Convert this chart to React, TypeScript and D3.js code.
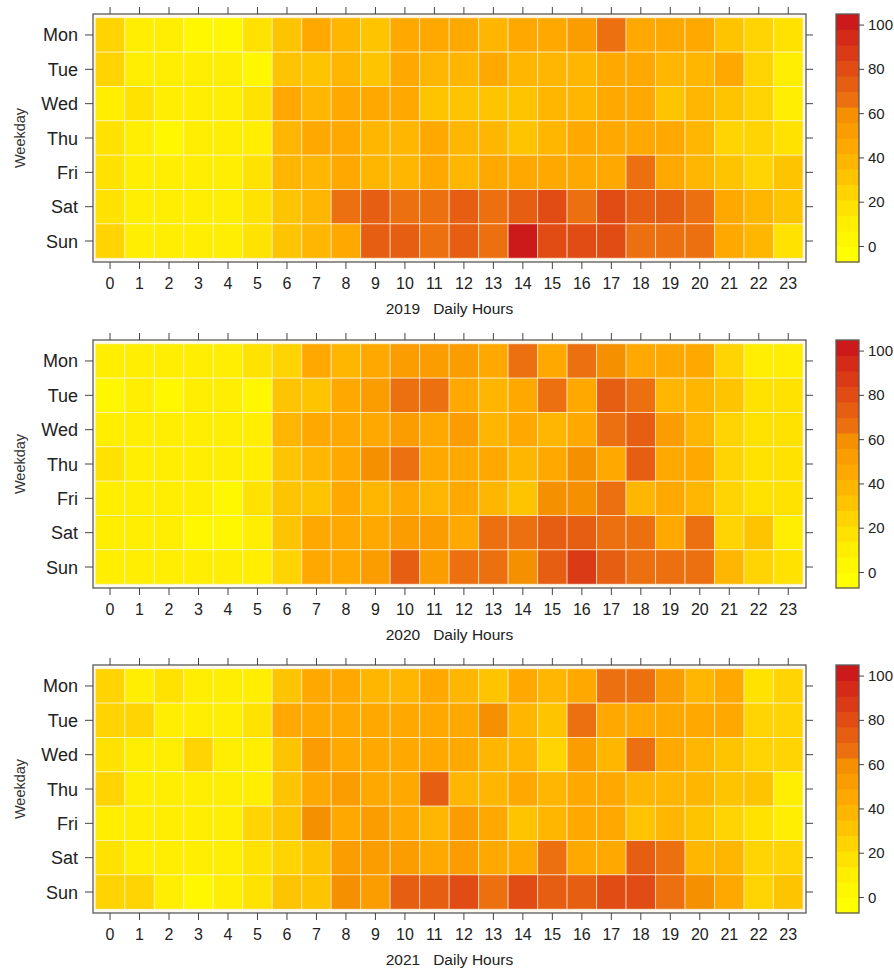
import React from "react";
import * as d3 from "d3";

const hours = d3.range(0, 24);
const weekdays = ["Mon", "Tue", "Wed", "Thu", "Fri", "Sat", "Sun"];
const years = ["2019", "2020", "2021"];

// rows: Mon..Sun, columns: hours 0..23
const values2019 = [
  [22, 8, 8, 6, 6, 15, 28, 45, 40, 33, 43, 45, 45, 40, 43, 42, 52, 65, 47, 43, 43, 33, 22, 17],
  [22, 10, 8, 7, 8, 5, 28, 33, 40, 33, 42, 40, 40, 42, 38, 40, 36, 43, 42, 40, 37, 45, 24, 12],
  [8, 18, 10, 9, 10, 15, 45, 40, 42, 46, 44, 32, 32, 28, 28, 36, 38, 45, 43, 28, 36, 28, 24, 13],
  [20, 9, 4, 8, 8, 12, 36, 47, 47, 40, 37, 45, 40, 37, 30, 40, 42, 42, 42, 43, 40, 27, 24, 20],
  [20, 12, 10, 10, 9, 14, 36, 40, 44, 40, 40, 43, 40, 42, 43, 42, 48, 43, 65, 43, 37, 28, 25, 28],
  [20, 10, 9, 9, 9, 15, 28, 40, 68, 72, 66, 68, 74, 66, 70, 80, 64, 82, 74, 70, 66, 48, 40, 32],
  [26, 12, 10, 9, 10, 15, 28, 40, 43, 70, 70, 68, 74, 68, 100, 80, 78, 80, 66, 64, 66, 47, 40, 16],
];

const values2020 = [
  [10, 8, 10, 8, 8, 16, 24, 47, 40, 43, 55, 55, 55, 43, 64, 48, 63, 62, 43, 43, 42, 22, 12, 12],
  [3, 8, 3, 7, 8, 6, 32, 33, 43, 55, 66, 68, 42, 40, 42, 64, 48, 74, 64, 40, 40, 28, 15, 15],
  [10, 9, 9, 9, 9, 13, 36, 42, 48, 44, 55, 43, 52, 40, 43, 40, 47, 68, 70, 52, 36, 22, 16, 14],
  [18, 10, 10, 9, 10, 13, 32, 36, 43, 58, 63, 47, 43, 43, 40, 48, 58, 47, 70, 43, 43, 22, 18, 16],
  [10, 9, 10, 9, 4, 14, 32, 33, 43, 38, 42, 40, 44, 36, 33, 62, 62, 63, 36, 43, 40, 22, 16, 16],
  [10, 9, 10, 4, 4, 8, 28, 43, 43, 47, 53, 55, 43, 64, 64, 74, 72, 66, 68, 48, 64, 24, 30, 12],
  [10, 10, 10, 10, 12, 12, 25, 43, 42, 53, 70, 55, 66, 65, 58, 72, 84, 72, 68, 64, 66, 40, 22, 16],
];

const values2021 = [
  [24, 8, 20, 10, 10, 13, 28, 43, 43, 40, 40, 43, 40, 30, 44, 40, 43, 64, 64, 52, 40, 44, 20, 22],
  [24, 22, 10, 9, 10, 16, 43, 43, 43, 43, 43, 43, 43, 58, 40, 28, 65, 43, 43, 43, 45, 43, 22, 22],
  [20, 10, 10, 22, 10, 8, 32, 55, 43, 45, 46, 43, 44, 40, 36, 24, 54, 38, 64, 43, 40, 28, 24, 22],
  [24, 10, 10, 9, 9, 7, 28, 47, 53, 47, 43, 74, 36, 40, 43, 40, 43, 43, 40, 40, 40, 28, 32, 13],
  [7, 10, 10, 10, 10, 22, 28, 58, 43, 52, 43, 40, 50, 43, 33, 40, 43, 43, 33, 36, 33, 24, 16, 13],
  [18, 10, 10, 10, 10, 16, 24, 32, 55, 53, 52, 44, 52, 47, 43, 65, 48, 48, 72, 68, 40, 36, 24, 22],
  [22, 24, 12, 4, 10, 16, 28, 32, 58, 55, 72, 70, 82, 65, 80, 72, 72, 80, 82, 64, 58, 44, 24, 32],
];

const yearValues = [values2019, values2020, values2021];
const keyTicks = [0, 20, 40, 60, 80, 100];

// levelplot style discrete palette, yellow -> orange -> red
const bandColors = [
  "#FFFF00", "#FFF700", "#FFEE00", "#FFE200", "#FFD400", "#FFC400", "#FFB600", "#FFA900",
  "#FB9C00", "#F59000", "#EC7010", "#E65E12", "#E04C14", "#DA3A16", "#D42A18", "#CC1A1A",
];
const zMin = -7;
const zMax = 105;

const font = "'Liberation Sans', Arial, Helvetica, sans-serif";

const frameLeft = 93;
const frameRight = 806;
const frameH = 248;
const frameTops = [14, 340, 665];
const keyLeft = 836;
const keyW = 23;

const color = d3.scaleQuantize<string>().domain([zMin, zMax]).range(bandColors);

function Panel({ year, values, top }: { year: string; values: number[][]; top: number }) {
  const x = d3.scaleBand<number>().domain(hours).range([95.3, 803]);
  const y = d3.scaleBand<string>().domain(weekdays).range([top + 3.8, top + frameH - 3.8]);
  const bottom = top + frameH;
  const keyY = d3.scaleLinear().domain([zMin, zMax]).range([bottom, top]);
  const step = (zMax - zMin) / bandColors.length;
  const bands = d3.range(bandColors.length).map((i) => zMin + i * step);

  return (
    <g>
      <rect x={frameLeft} y={top} width={frameRight - frameLeft} height={frameH} fill="#fffaf0" />
      {values.map((row, r) =>
        row.map((v, c) => (
          <rect
            key={`${r}-${c}`}
            x={x(hours[c])}
            y={y(weekdays[r])}
            width={x.bandwidth()}
            height={y.bandwidth()}
            fill={color(v)}
            stroke="rgba(250,244,225,0.6)"
            strokeWidth={1}
          />
        ))
      )}
      <rect x={frameLeft} y={top} width={frameRight - frameLeft} height={frameH} fill="none" stroke="#5a5a5a" strokeWidth={1.3} />
      {hours.map((h) => {
        const cx = x(h)! + x.bandwidth() / 2;
        return (
          <g key={h}>
            <line x1={cx} x2={cx} y1={top} y2={top - 7} stroke="#444" />
            <line x1={cx} x2={cx} y1={bottom} y2={bottom + 7} stroke="#444" />
            <text x={cx} y={bottom + 27} textAnchor="middle" fontSize={16} fill="#222">
              {h}
            </text>
          </g>
        );
      })}
      {weekdays.map((d) => {
        const cy = y(d)! + y.bandwidth() / 2;
        return (
          <g key={d}>
            <line x1={frameLeft} x2={frameLeft - 8} y1={cy} y2={cy} stroke="#444" />
            <line x1={frameRight} x2={frameRight + 7} y1={cy} y2={cy} stroke="#444" />
            <text x={78} y={cy + 6.5} textAnchor="end" fontSize={18} fill="#222">
              {d}
            </text>
          </g>
        );
      })}
      <text
        transform={`translate(25,${top + frameH / 2}) rotate(-90)`}
        textAnchor="middle"
        fontSize={14.5}
        fill="#333"
      >
        Weekday
      </text>
      <text x={(frameLeft + frameRight) / 2} y={bottom + 52} textAnchor="middle" fontSize={15.5} fill="#222" xmlSpace="preserve">
        {`${year}   Daily Hours`}
      </text>
      {bands.map((b, i) => (
        <rect
          key={i}
          x={keyLeft}
          y={keyY(b + step)}
          width={keyW}
          height={keyY(b) - keyY(b + step) + 0.5}
          fill={bandColors[i]}
        />
      ))}
      <rect x={keyLeft} y={top} width={keyW} height={frameH} fill="none" stroke="#5a5a5a" strokeWidth={1.3} />
      {keyTicks.map((t) => (
        <g key={t}>
          <line x1={keyLeft + keyW} x2={keyLeft + keyW + 5} y1={keyY(t)} y2={keyY(t)} stroke="#444" />
          <text x={keyLeft + keyW + 9} y={keyY(t) + 5} fontSize={15} fill="#222">
            {t}
          </text>
        </g>
      ))}
    </g>
  );
}

export default function App() {
  return (
    <svg
      width={894}
      height={970}
      style={{ position: "absolute", left: 0, top: 0, background: "#fff" }}
      fontFamily={font}
    >
      {years.map((yr, i) => (
        <Panel key={yr} year={yr} values={yearValues[i]} top={frameTops[i]} />
      ))}
    </svg>
  );
}
